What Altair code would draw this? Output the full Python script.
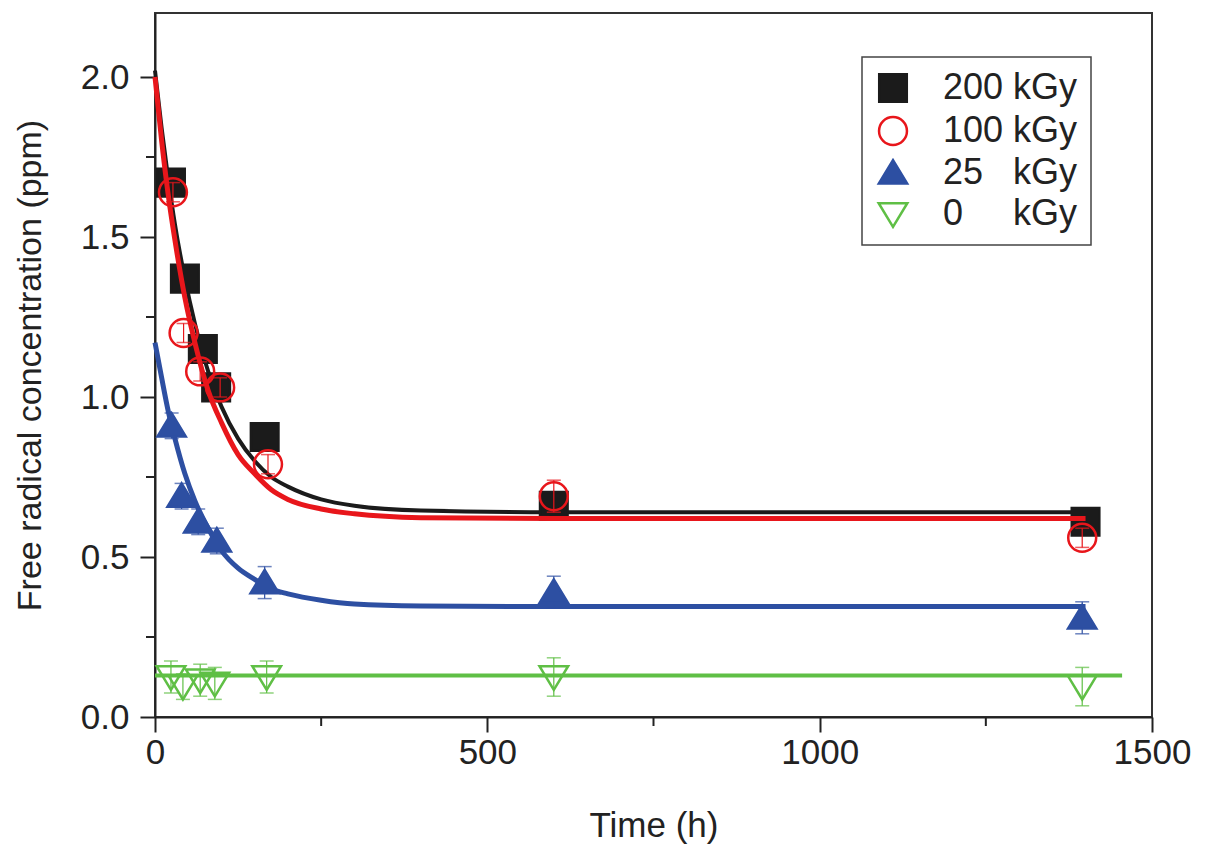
import altair as alt
import pandas as pd

NB = "\u00a0"
series = ["200 kGy", "100 kGy", "25" + NB * 3 + "kGy", "0" + NB * 5 + "kGy"]
colors = ["#1b1b1b", "#e8161b", "#2d4fa2", "#5fbf45"]
fills = ["#1b1b1b", "transparent", "#2d4fa2", "transparent"]
TRI_UP = "M0,-0.9L1,0.75L-1,0.75Z"
TRI_DOWN = "M0,0.9L1,-0.75L-1,-0.75Z"
shapes = ["square", "circle", TRI_UP, TRI_DOWN]
sizes = [760, 820, 2000, 2000]

# measured points (time in h, concentration in ppm, error half-width)
t200 = [24, 45, 72, 92, 165, 600, 1400]
v200 = [1.67, 1.37, 1.15, 1.03, 0.875, 0.66, 0.61]
e200 = [0.03, 0.03, 0.03, 0.03, 0.03, 0.04, 0.03]

t100 = [27, 43, 68, 98, 170, 600, 1395]
v100 = [1.64, 1.20, 1.08, 1.03, 0.79, 0.69, 0.56]
e100 = [0.03, 0.03, 0.03, 0.03, 0.03, 0.05, 0.03]

t25 = [25, 40, 65, 93, 165, 600, 1395]
v25 = [0.91, 0.69, 0.61, 0.55, 0.42, 0.39, 0.31]
e25 = [0.04, 0.04, 0.04, 0.04, 0.05, 0.05, 0.05]

t0 = [24, 42, 68, 90, 168, 600, 1395]
v0 = [0.125, 0.095, 0.115, 0.105, 0.125, 0.125, 0.095]
e0 = [0.05, 0.04, 0.05, 0.05, 0.05, 0.06, 0.06]

# fitted curves
fit_t = [0, 10, 20, 30, 45, 60, 80, 100, 125, 150, 175, 200, 250, 300, 400, 600, 1000, 1400]
fit200 = [2.02, 1.84, 1.68, 1.54, 1.37, 1.23, 1.08, 0.97, 0.87, 0.80, 0.75, 0.72, 0.68, 0.66, 0.645, 0.64, 0.64, 0.64]
fit100 = [2.00, 1.80, 1.63, 1.49, 1.31, 1.17, 1.02, 0.92, 0.82, 0.76, 0.71, 0.68, 0.65, 0.635, 0.623, 0.62, 0.62, 0.62]
fit25 = [1.17, 1.06, 0.955, 0.87, 0.76, 0.675, 0.59, 0.52, 0.465, 0.43, 0.40, 0.385, 0.365, 0.353, 0.347, 0.345, 0.345, 0.345]
fit0_t = [0, 1455]
fit0 = [0.13, 0.13]

x_major = [0, 500, 1000, 1500]
x_minor = [250, 750, 1250]
y_major = [0.0, 0.5, 1.0, 1.5, 2.0]
y_minor = [0.25, 0.75, 1.25, 1.75]

FONT = "Liberation Sans"
TXT = "#222222"

rows = []
for s, ts, vs, es in zip(series, [t200, t100, t25, t0], [v200, v100, v25, v0], [e200, e100, e25, e0]):
    for t, v, e in zip(ts, vs, es):
        rows.append({"series": s, "t": t, "v": v, "lo": v - e, "hi": v + e})
pts = pd.DataFrame(rows)

xs = alt.Scale(domain=[0, 1500], nice=False, zero=False)
ys = alt.Scale(domain=[0, 2.2], nice=False, zero=False)

X = alt.X("t:Q", scale=xs, title="Time (h)",
          axis=alt.Axis(values=x_major, format="d", grid=False, tickSize=15, labelPadding=3,
                        labelFlush=False, titlePadding=38))
Y = alt.Y("v:Q", scale=ys, title="Free radical concentration (ppm)",
          axis=alt.Axis(values=y_major, format=".1f", grid=False, tickSize=15, labelPadding=11,
                        labelFlush=False, titlePadding=33))

fits = [(fit_t, fit200, 4), (fit_t, fit100, 5), (fit_t, fit25, 5), (fit0_t, fit0, 4)]

layers = []
for i, s in enumerate(series):
    ft, fv, w = fits[i]
    c = colors[i]
    d = pd.DataFrame({"t": ft, "v": fv})
    layers.append(alt.Chart(d).mark_line(color=c, strokeWidth=w, interpolate="monotone").encode(x=X, y=Y))
    p = pts[pts.series == s]
    layers.append(alt.Chart(p).mark_rule(color=c, strokeWidth=1.2).encode(
        x="t:Q", y="lo:Q", y2="hi:Q"))
    layers.append(alt.Chart(p).mark_tick(color=c, orient="horizontal", size=14, thickness=1.5).encode(
        x="t:Q", y="lo:Q"))
    layers.append(alt.Chart(p).mark_tick(color=c, orient="horizontal", size=14, thickness=1.5).encode(
        x="t:Q", y="hi:Q"))
    layers.append(alt.Chart(p).mark_point(strokeWidth=2.5, opacity=1, fillOpacity=1).encode(
        x="t:Q", y="v:Q",
        shape=alt.Shape("series:N", scale=alt.Scale(domain=series, range=shapes), title=None),
        stroke=alt.Stroke("series:N", scale=alt.Scale(domain=series, range=colors), title=None),
        fill=alt.Fill("series:N", scale=alt.Scale(domain=series, range=fills), title=None),
        size=alt.Size("series:N", scale=alt.Scale(domain=series, range=sizes), title=None),
    ))

# minor ticks
layers.append(alt.Chart(pd.DataFrame({"t": x_minor})).mark_rule(color=TXT, strokeWidth=2).encode(
    x="t:Q", y=alt.value(704), y2=alt.value(713)))
layers.append(alt.Chart(pd.DataFrame({"v": y_minor})).mark_rule(color=TXT, strokeWidth=2).encode(
    y="v:Q", x=alt.value(-9), x2=alt.value(0)))

chart = alt.layer(*layers).properties(
    width=997, height=704,
    autosize=alt.AutoSizeParams(type="none"),
    padding={"left": 147, "top": 5, "right": 40, "bottom": 140},
).configure_view(
    stroke="#333333", strokeWidth=2
).configure_axis(
    labelFont=FONT, titleFont=FONT, labelFontSize=35, titleFontSize=35,
    labelColor=TXT, titleColor=TXT, titleFontWeight="normal",
    domainColor=TXT, domainWidth=2, tickColor=TXT, tickWidth=2,
).configure_axisY(
    titleFontSize=34
).configure_legend(
    orient="none", legendX=707, legendY=44,
    strokeColor="#444444", strokeWidth=1.5, fillColor="white", padding=13,
    labelFont=FONT, labelFontSize=36, labelColor=TXT, labelOffset=32,
    rowPadding=5, symbolStrokeWidth=2.5, symbolOpacity=1,
)

chart.save("out.html", embed_options={"renderer": "svg", "actions": False})
